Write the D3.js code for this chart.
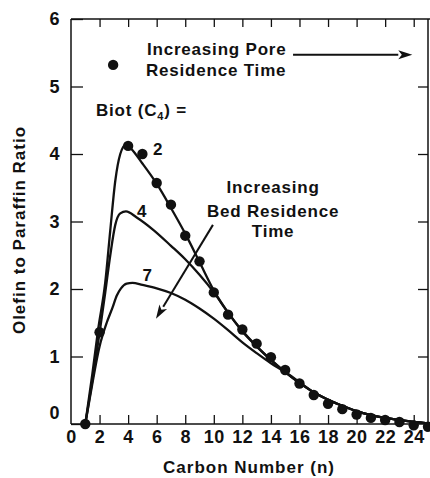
<!DOCTYPE html>
<html>
<head>
<meta charset="utf-8">
<script src="https://cdn.jsdelivr.net/npm/d3@7"></script>
<style>
  html, body { margin: 0; padding: 0; background: #fff; }
  svg { display: block; }
  text { font-family: "Liberation Sans", Arial, Helvetica, sans-serif; font-weight: bold; fill: #111; }
</style>
</head>
<body>
<svg id="chart" width="430" height="478"></svg>
<script>
// ---- data ----
const xTickValues = [0, 2, 4, 6, 8, 10, 12, 14, 16, 18, 20, 22, 24];
const xTickLabels = ["0", "2", "4", "6", "8", "10", "12", "14", "16", "18", "20", "22", "24"];
const yTickValues = [0, 1, 2, 3, 4, 5, 6];
const yTickLabels = ["0", "1", "2", "3", "4", "5", "6"];

const dotN = [1, 2, 4, 5, 6, 7, 8, 9, 10, 11, 12, 13, 14, 15, 16, 17, 18, 19, 20, 21, 22, 23, 24, 25];
const dotV = [0, 1.36, 4.12, 4.0, 3.57, 3.25, 2.79, 2.41, 1.95, 1.62, 1.40, 1.19, 0.99, 0.80, 0.60, 0.43, 0.30, 0.22, 0.14, 0.09, 0.06, 0.03, -0.02, -0.04];

const biot2N = [1, 1.5, 1.9, 2.4, 2.75, 3.1, 3.45, 3.85, 4.2, 5, 6, 7, 8, 9, 10, 11, 12, 13, 14, 15, 16, 17, 18, 19, 20, 21, 22, 23, 24, 25];
const biot2V = [0, 0.75, 1.4, 2.1, 2.87, 3.6, 4.0, 4.14, 4.08, 3.86, 3.56, 3.2, 2.82, 2.4, 1.98, 1.65, 1.38, 1.15, 0.95, 0.77, 0.61, 0.47, 0.36, 0.27, 0.19, 0.13, 0.09, 0.06, 0.03, 0.01];

const biot4N = [1, 1.5, 2, 2.4, 2.75, 3.1, 3.45, 3.85, 4.6, 5.8, 7, 8, 9, 10, 11, 12, 13, 14, 15, 16, 17, 18, 19, 20, 21, 22, 23, 24, 25];
const biot4V = [0, 0.65, 1.35, 1.95, 2.5, 2.95, 3.12, 3.15, 3.06, 2.87, 2.64, 2.44, 2.21, 1.95, 1.65, 1.37, 1.15, 0.95, 0.77, 0.61, 0.47, 0.36, 0.27, 0.19, 0.13, 0.09, 0.06, 0.03, 0.01];

const biot7N = [1, 1.33, 2, 2.5, 2.9, 3.2, 3.5, 3.9, 4.3, 5, 6, 7, 8, 9, 10, 11, 12, 13, 14, 15, 16, 17, 18, 19, 20, 21, 22, 23, 24, 25];
const biot7V = [0, 0.4, 1.15, 1.5, 1.72, 1.9, 2.01, 2.08, 2.09, 2.06, 2.01, 1.94, 1.84, 1.71, 1.56, 1.39, 1.21, 1.05, 0.9, 0.77, 0.62, 0.47, 0.36, 0.27, 0.19, 0.13, 0.09, 0.06, 0.03, 0.01];

const curveNames = ["2", "4", "7"];

(function () {
// ---- layout ----
const svg = d3.select("#chart");
const mLeft = 71, mRight = 428, mTop = 19, mBottom = 424;
const x = d3.scaleLinear().domain([0, 25]).range([mLeft, mRight]);
const y = d3.scaleLinear().domain([0, 6]).range([mBottom, mTop]);

const axisStroke = 1.5;

// ticks
const gl = svg.append("g").attr("transform", `translate(${mLeft},0)`)
  .call(d3.axisLeft(y).tickValues(yTickValues).tickFormat((d, i) => yTickLabels[i]).tickSize(-12).tickSizeOuter(0).tickPadding(11));
const gr = svg.append("g").attr("transform", `translate(${mRight},0)`)
  .call(d3.axisRight(y).tickValues(yTickValues.slice(1, -1)).tickFormat("").tickSize(-10).tickSizeOuter(0));
const gb = svg.append("g").attr("transform", `translate(0,${mBottom})`)
  .call(d3.axisBottom(x).tickValues(xTickValues).tickFormat((d, i) => xTickLabels[i]).tickSize(-9).tickSizeOuter(0).tickPadding(6));
const gt = svg.append("g").attr("transform", `translate(0,${mTop})`)
  .call(d3.axisTop(x).tickValues(xTickValues.slice(1)).tickFormat("").tickSize(-8).tickSizeOuter(0));

[gl, gr, gb, gt].forEach(g => {
  g.select(".domain").remove();
  g.selectAll(".tick line").attr("stroke", "#111").attr("stroke-width", 1.3);
  g.selectAll("text").attr("font-size", 18).attr("fill", "#111")
    .style("font-family", '"Liberation Sans", Arial, sans-serif').style("font-weight", "bold").style("letter-spacing", "0.5px");
});
gl.selectAll(".tick").filter(d => d === 0).select("text").attr("dy", "-0.3em");
gb.selectAll(".tick").filter(d => d === 0).select("line").remove();

// frame
const frame = svg.append("g").attr("stroke", "#111").attr("stroke-width", axisStroke).attr("fill", "none");
frame.append("line").attr("x1", mLeft).attr("x2", mLeft).attr("y1", mTop).attr("y2", mBottom);
frame.append("line").attr("x1", mLeft).attr("x2", mRight).attr("y1", mBottom).attr("y2", mBottom);
frame.append("line").attr("x1", mLeft).attr("x2", mRight + 2).attr("y1", mTop).attr("y2", mTop);
frame.append("line").attr("x1", mRight).attr("x2", mRight).attr("y1", mTop).attr("y2", mBottom);

// curves
const line = d3.line().x(d => x(d[0])).y(d => y(d[1])).curve(d3.curveMonotoneX);
const curves = [
  d3.zip(biot2N, biot2V),
  d3.zip(biot4N, biot4V),
  d3.zip(biot7N, biot7V)
];
svg.append("g").selectAll("path").data(curves).join("path")
  .attr("d", line).attr("fill", "none").attr("stroke", "#111").attr("stroke-width", 2.3)
  .attr("stroke-linejoin", "round").attr("stroke-linecap", "round");

// dots
svg.append("g").selectAll("circle").data(d3.zip(dotN, dotV)).join("circle")
  .attr("cx", d => x(d[0])).attr("cy", d => y(d[1])).attr("r", 5.2).attr("fill", "#111");

// ---- annotations (positioned in data units) ----
function arrow(x1, y1, x2, y2, headLen, headHalf) {
  const px1 = x(x1), py1 = y(y1), px2 = x(x2), py2 = y(y2);
  const ang = Math.atan2(py2 - py1, px2 - px1);
  const bx = px2 - headLen * Math.cos(ang), by = py2 - headLen * Math.sin(ang);
  svg.append("line").attr("x1", px1).attr("y1", py1).attr("x2", bx).attr("y2", by)
    .attr("stroke", "#111").attr("stroke-width", 2);
  const nx = -Math.sin(ang) * headHalf, ny = Math.cos(ang) * headHalf;
  svg.append("path")
    .attr("d", `M${px2},${py2}L${bx + nx},${by + ny}L${bx + headLen * 0.25 * Math.cos(ang)},${by + headLen * 0.25 * Math.sin(ang)}L${bx - nx},${by - ny}Z`)
    .attr("fill", "#111");
}

const annoFont = 17;
function label(txt, xv, yv, anchor) {
  return svg.append("text").attr("x", x(xv)).attr("y", y(yv)).attr("font-size", annoFont)
    .attr("text-anchor", anchor || "start").style("letter-spacing", "0.8px").text(txt);
}

label("Increasing Pore", 5.32, 5.47);
label("Residence Time", 5.25, 5.16);
svg.append("circle").attr("cx", x(2.95)).attr("cy", y(5.32)).attr("r", 5.2).attr("fill", "#111");
arrow(15.55, 5.47, 23.9, 5.47, 14, 4.5);

const biot = svg.append("text").attr("x", x(1.75)).attr("y", y(4.56)).attr("font-size", annoFont).style("letter-spacing", "0.8px");
biot.append("tspan").text("Biot (C");
biot.append("tspan").attr("font-size", 11).attr("dy", 4).text("4");
biot.append("tspan").attr("dy", -4).text(")  =");

const curveLabelPos = [[5.75, 3.99], [4.62, 3.07], [5.0, 2.12]];
curveNames.forEach((nm, i) => label(nm, curveLabelPos[i][0], curveLabelPos[i][1]));

label("Increasing", 14.15, 3.42, "middle");
label("Bed Residence", 14.15, 3.07, "middle");
label("Time", 14.15, 2.77, "middle");
arrow(9.94, 2.95, 5.95, 1.56, 14, 4.5);

svg.append("text").attr("x", 249).attr("y", 473).attr("text-anchor", "middle").attr("font-size", 17)
  .style("letter-spacing", "1px").text("Carbon Number (n)");
svg.append("text").attr("transform", "translate(25,230) rotate(-90)").attr("text-anchor", "middle").attr("font-size", 17)
  .style("letter-spacing", "1px").text("Olefin to Paraffin Ratio");
})();
</script>
</body>
</html>
